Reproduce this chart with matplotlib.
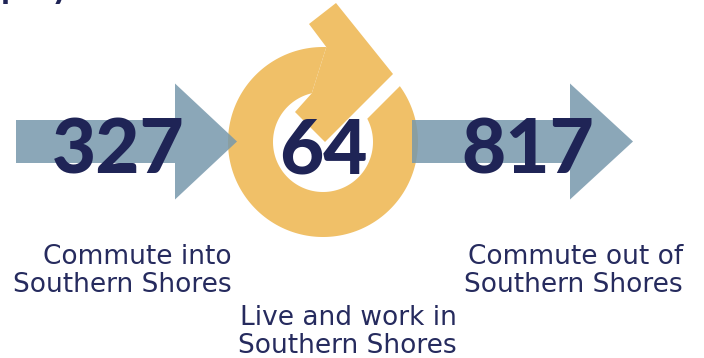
import numpy as np
import matplotlib
matplotlib.use("Agg")
import matplotlib.pyplot as plt
from matplotlib.patches import Polygon

# Commuting flows for Southern Shores
values = [327, 64, 817]
labels = ["Commute into\nSouthern Shores",
          "Live and work in\nSouthern Shores",
          "Commute out of\nSouthern Shores"]
heading = "Employment"

NAVY = "#1f2456"
ORANGE = "#f0c068"
STEEL = "#7798ac"

W, H = 704, 358
fig = plt.figure(figsize=(W / 100, H / 100), dpi=100)
ax = fig.add_axes([0, 0, 1, 1])
ax.set_xlim(0, W)
ax.set_ylim(H, 0)
ax.axis("off")

# heading sitting just above the visible area
ax.text(-50, -2, heading, fontsize=26, fontweight="bold", family="Lato",
        color=NAVY, ha="left", va="baseline", clip_on=False)

# ---- circular "stay" arrow ----
cx, cy, R, r = 323, 142, 95, 50
tail_k = 486          # tail cut line: x + y = tail_k


def cut_angle(rad):
    k = tail_k - cx - cy
    return np.degrees(np.arcsin(k / (rad * np.sqrt(2)))) - 45


end_out, end_in = 272.0, 257.0
a_out = np.radians(np.linspace(cut_angle(R), end_out, 300))
a_in = np.radians(np.linspace(end_in, cut_angle(r), 300))
ring = np.vstack([
    np.column_stack([cx + R * np.cos(a_out), cy + R * np.sin(a_out)]),
    np.column_stack([cx + r * np.cos(a_in), cy + r * np.sin(a_in)]),
])
ax.add_patch(Polygon(ring, closed=True, fc=ORANGE, ec="none", zorder=1))

p_out = (cx + R * np.cos(np.radians(end_out)), cy + R * np.sin(np.radians(end_out)))
p_in = (cx + r * np.cos(np.radians(end_in)), cy + r * np.sin(np.radians(end_in)))
head = [(336, 3), (393, 74), (325, 142), (295, 112), p_in, p_out, (309, 24)]
ax.add_patch(Polygon(head, closed=True, fc=ORANGE, ec="none", zorder=1))


# ---- straight arrows ----
def straight_arrow(x0, x_head, x_tip, yc, shaft_h=43, head_h=116):
    pts = [(x0, yc - shaft_h / 2), (x_head, yc - shaft_h / 2),
           (x_head, yc - head_h / 2), (x_tip, yc),
           (x_head, yc + head_h / 2), (x_head, yc + shaft_h / 2),
           (x0, yc + shaft_h / 2)]
    ax.add_patch(Polygon(pts, closed=True, fc=STEEL, ec="none",
                         alpha=0.85, zorder=2))


straight_arrow(16, 175, 237, 141.5)
straight_arrow(412, 570, 633, 141.5)

# ---- numbers ----
num_x = [118.5, 323.5, 528]
for x, v in zip(num_x, values):
    ax.text(x, 173, f"{v}", fontsize=55, fontweight="black", family="Lato",
            color=NAVY, ha="center", va="baseline", zorder=3)

# ---- captions (y is the baseline of the last line) ----
cap_pos = [(232, 292), (457, 353), (683, 292)]
for (x, y), lab in zip(cap_pos, labels):
    ax.text(x, y, lab, fontsize=19, family="DejaVu Sans", color="#262b5e",
            ha="right", va="baseline", multialignment="right",
            linespacing=1.08, zorder=3)

fig.savefig("out.png", dpi=100)
